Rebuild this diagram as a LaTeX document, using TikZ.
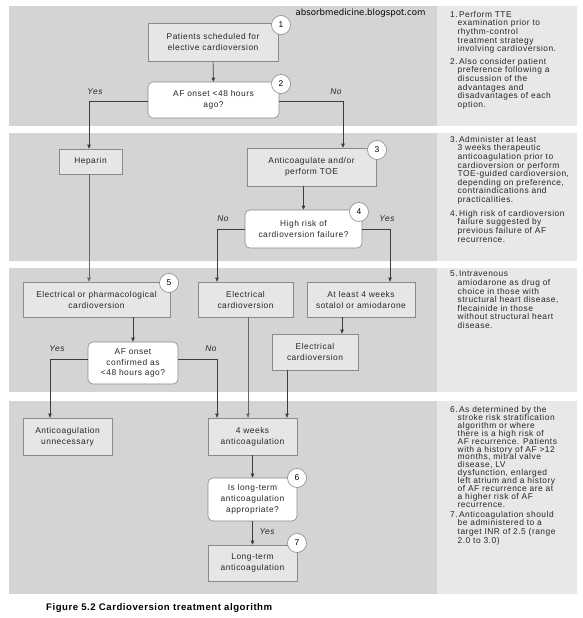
\documentclass[tikz,border=0pt]{standalone}
\usepackage{fontspec}
\setmainfont{Liberation Sans}[LetterSpace=6]
\newfontfamily\wmfont{DejaVu Sans}
\newfontfamily\capfont{Liberation Sans}[LetterSpace=5.5]
\usetikzlibrary{arrows.meta}
\definecolor{bandgray}{HTML}{D4D4D4}
\definecolor{panelgray}{HTML}{E8E8E8}
\definecolor{boxfill}{HTML}{E6E6E6}
\definecolor{boxline}{HTML}{8A8A8A}
\definecolor{conn}{HTML}{3C3C3C}
\definecolor{connlight}{HTML}{666666}
\begin{document}
\begin{tikzpicture}[x=1pt,y=-1pt,
  font=\fontsize{8.4}{11}\selectfont,
  box/.style={draw=boxline,fill=boxfill,line width=0.6pt,inner sep=0pt,align=center,text=black!85},
  dec/.style={draw=boxline,fill=white,line width=0.6pt,rounded corners=5pt,inner sep=0pt,align=center,text=black!85},
  num/.style={circle,draw=boxline,fill=white,line width=0.6pt,minimum size=19pt,inner sep=0pt,font=\fontsize{8.4}{8}\selectfont},
  lbl/.style={font=\fontsize{8.4}{8}\selectfont\itshape,text=black!85},
  note/.style={anchor=north west,align=left,inner sep=0pt,text=black!85,font=\fontsize{8.4}{8.6}\selectfont},
  link/.style={draw=conn,line width=0.6pt},
  arr/.style={link,-{Triangle[length=4pt,width=3.4pt]}}
]
\useasboundingbox (0,0) rectangle (583,618);
% bands
\foreach \ya/\yb in {6/126,133/261,268/392,401/594}{
  \fill[bandgray] (9,\ya) rectangle (437,\yb);
  \fill[panelgray] (437,\ya) rectangle (577,\yb);
}
\node[font=\wmfont\fontsize{8.6}{9}\selectfont,anchor=east] (wm) at (429,13) {absorbmedicine.blogspot.com};

% nodes
\node[box,minimum width=130pt,minimum height=38pt] (b1) at (213,42) {Patients scheduled for\\elective cardioversion};
\node[dec,minimum width=131pt,minimum height=36pt] (d2) at (213.5,100) {AF onset <48 hours\\ago?};
\node[box,minimum width=63pt,minimum height=25pt] (hep) at (90.5,161.5) {Heparin};
\node[box,minimum width=129pt,minimum height=38pt] (b3) at (311.5,167) {Anticoagulate and/or\\perform TOE};
\node[dec,minimum width=117pt,minimum height=38pt] (d4) at (303.5,229) {High risk of\\cardioversion failure?};
\node[box,minimum width=147pt,minimum height=35pt] (b5) at (96.5,299.5) {Electrical or pharmacological\\cardioversion};
\node[box,minimum width=95pt,minimum height=35pt] (ec1) at (245.5,299.5) {Electrical\\cardioversion};
\node[box,minimum width=108pt,minimum height=35pt] (sot) at (361,299.5) {At least 4 weeks\\sotalol or amiodarone};
\node[box,minimum width=86pt,minimum height=36pt] (ec2) at (315,352) {Electrical\\cardioversion};
\node[dec,minimum width=90pt,minimum height=42pt,font=\fontsize{8.4}{10.5}\selectfont] (d5) at (133,363) {AF onset\\confirmed as\\<48 hours ago?};
\node[box,minimum width=89pt,minimum height=37pt] (anu) at (67.5,436.5) {Anticoagulation\\unnecessary};
\node[box,minimum width=89pt,minimum height=37pt] (fw) at (252.5,436.5) {4 weeks\\anticoagulation};
\node[dec,minimum width=89pt,minimum height=43pt,font=\fontsize{8.4}{10.7}\selectfont] (d6) at (252.5,499.5) {Is long-term\\anticoagulation\\appropriate?};
\node[box,minimum width=89pt,minimum height=36pt] (lt) at (252.5,563) {Long-term\\anticoagulation};

% number circles
\node[num] (n1) at (281,25) {1};
\node[num] (n2) at (281,84) {2};
\node[num] (n3) at (377,150) {3};
\node[num] (n4) at (359,212) {4};
\node[num] (n5) at (169,283) {5};
\node[num] (n6) at (297,478) {6};
\node[num] (n7) at (297,543) {7};

% connectors
\draw[arr] (b1) -- (d2);
\coordinate (yL) at (89,101);
\coordinate (yR) at (343,101);
\draw[arr] (d2.west |- yL) -| (hep.north -| yL);
\draw[arr] (d2.east |- yR) -| (b3.north -| yR);
\node[lbl,anchor=south] (yes2) at (95,98) {Yes};
\node[lbl,anchor=south] (no2) at (336,98) {No};
\draw[arr,draw=connlight] (hep.south -| yL) -- (b5.north -| yL);
\draw[arr] (b3.south -| d4.north) -- (d4.north);
\coordinate (nL) at (217,229);
\coordinate (nR) at (390,229);
\draw[arr] (d4.west |- nL) -| (ec1.north -| nL);
\draw[arr] (d4.east |- nR) -| (sot.north -| nR);
\node[lbl,anchor=south] (no4) at (223,225) {No};
\node[lbl,anchor=south] (yes4) at (387,225) {Yes};
\draw[arr] (b5.south -| d5.north) -- (d5.north);
\draw[arr] (sot.south -| 342,0) -- (ec2.north -| 342,0);
\coordinate (aL) at (50,359);
\coordinate (aR) at (217,359);
\draw[arr] (d5.west |- aL) -| (anu.north -| aL);
\draw[arr] (d5.east |- aR) -| (fw.north -| aR);
\node[lbl,anchor=south] (yes5) at (57,355) {Yes};
\node[lbl,anchor=south] (no5) at (211,355) {No};
\draw[arr,draw=connlight] (ec1.south -| 248,0) -- (fw.north -| 248,0);
\draw[arr] (ec2.south -| 287,0) -- (fw.north -| 287,0);
\draw[arr] (fw) -- (d6);
\draw[arr] (d6) -- (lt);
\node[lbl,anchor=west] (yes6) at (256,532) {Yes};

% notes
\node[note] (t1) at (450,11) {1.\,Perform TTE\\\hspace*{7.5pt}examination prior to\\\hspace*{7.5pt}rhythm-control\\\hspace*{7.5pt}treatment strategy\\\hspace*{7.5pt}involving cardioversion.};
\node[note] (t2) at (450,58) {2.\,Also consider patient\\\hspace*{7.5pt}preference following a\\\hspace*{7.5pt}discussion of the\\\hspace*{7.5pt}advantages and\\\hspace*{7.5pt}disadvantages of each\\\hspace*{7.5pt}option.};
\node[note] (t3) at (450,136) {3.\,Administer at least\\\hspace*{7.5pt}3 weeks therapeutic\\\hspace*{7.5pt}anticoagulation prior to\\\hspace*{7.5pt}cardioversion or perform\\\hspace*{7.5pt}TOE-guided cardioversion,\\\hspace*{7.5pt}depending on preference,\\\hspace*{7.5pt}contraindications and\\\hspace*{7.5pt}practicalities.};
\node[note] (t4) at (450,210) {4.\,High risk of cardioversion\\\hspace*{7.5pt}failure suggested by\\\hspace*{7.5pt}previous failure of AF\\\hspace*{7.5pt}recurrence.};
\node[note] (t5) at (450,271) {5.\,Intravenous\\\hspace*{7.5pt}amiodarone as drug of\\\hspace*{7.5pt}choice in those with\\\hspace*{7.5pt}structural heart disease,\\\hspace*{7.5pt}flecainide in those\\\hspace*{7.5pt}without structural heart\\\hspace*{7.5pt}disease.};
\node[note,font=\fontsize{8.4}{7.95}\selectfont] (t6) at (450,406) {6.\,As determined by the\\\hspace*{7.5pt}stroke risk stratification\\\hspace*{7.5pt}algorithm or where\\\hspace*{7.5pt}there is a high risk of\\\hspace*{7.5pt}AF recurrence. Patients\\\hspace*{7.5pt}with a history of AF >12\\\hspace*{7.5pt}months, mitral valve\\\hspace*{7.5pt}disease, LV\\\hspace*{7.5pt}dysfunction, enlarged\\\hspace*{7.5pt}left atrium and a history\\\hspace*{7.5pt}of AF recurrence are at\\\hspace*{7.5pt}a higher risk of AF\\\hspace*{7.5pt}recurrence.};
\node[note] (t7) at (450,511) {7.\,Anticoagulation should\\\hspace*{7.5pt}be administered to a\\\hspace*{7.5pt}target INR of 2.5 (range\\\hspace*{7.5pt}2.0 to 3.0)};

\node[anchor=west,font=\capfont\bfseries\fontsize{9.6}{10}\selectfont,inner sep=0pt] (cap) at (46,608) {Figure 5.2 Cardioversion treatment algorithm};
\end{tikzpicture}
\end{document}
